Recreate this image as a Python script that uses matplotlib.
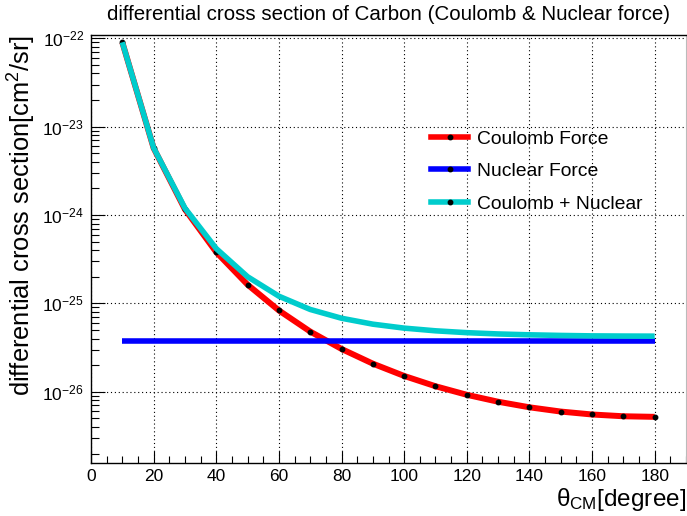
import matplotlib
matplotlib.use("Agg")
import matplotlib.pyplot as plt
from matplotlib.lines import Line2D
from matplotlib.ticker import LogLocator, MultipleLocator, NullFormatter, FixedLocator

plt.rcParams['font.family'] = ['Liberation Sans', 'DejaVu Sans']
plt.rcParams['mathtext.fontset'] = 'custom'
plt.rcParams['mathtext.rm'] = 'Liberation Sans'
plt.rcParams['mathtext.it'] = 'Liberation Sans:italic'
plt.rcParams['mathtext.bf'] = 'Liberation Sans:bold'

# ---- data ----
theta = [10, 20, 30, 40, 50, 60, 70, 80, 90, 100, 110, 120, 130, 140, 150, 160, 170, 180]
coulomb = [9.01e-23, 5.72e-24, 1.159e-24, 3.80e-25, 1.630e-25, 8.32e-26, 4.80e-26, 3.05e-26,
           2.08e-26, 1.51e-26, 1.155e-26, 9.24e-27, 7.71e-27, 6.67e-27, 5.97e-27, 5.53e-27,
           5.28e-27, 5.20e-27]
nuclear = [3.74e-26, 3.74e-26, 3.74e-26, 3.74e-26, 3.74e-26, 3.74e-26, 3.74e-26, 3.74e-26,
           3.74e-26, 3.74e-26, 3.74e-26, 3.74e-26, 3.74e-26, 3.74e-26, 3.74e-26, 3.74e-26,
           3.74e-26, 3.74e-26]
combined = [9.014e-23, 5.757e-24, 1.196e-24, 4.17e-25, 2.004e-25, 1.206e-25, 8.54e-26, 6.79e-26,
            5.82e-26, 5.25e-26, 4.895e-26, 4.664e-26, 4.51e-26, 4.41e-26, 4.34e-26, 4.29e-26,
            4.27e-26, 4.26e-26]
y_major = [1e-26, 1e-25, 1e-24, 1e-23, 1e-22]
labels = ["Coulomb Force", "Nuclear Force", "Coulomb + Nuclear"]
title = "differential cross section of Carbon (Coulomb & Nuclear force)"

RED = "#ff0000"
BLUE = "#0000ff"
CYAN = "#00cccc"

fig = plt.figure(figsize=(6.87, 5.16), dpi=100)
ax = fig.add_axes([91/687, 1-463.3/516, (686-91)/687, (463.3-35)/516])

lw = 4.0
ax.plot(theta, coulomb, color=RED, lw=lw + 0.3, zorder=3, solid_capstyle='butt')
ax.plot(theta, coulomb, ls='none', marker='o', ms=3.2, color='k', zorder=4)
ax.plot(theta, nuclear, color=BLUE, lw=lw, zorder=5, solid_capstyle='butt')
ax.plot(theta, combined, color=CYAN, lw=lw, zorder=6, solid_capstyle='butt')

ax.set_yscale('log')
ax.set_xlim(0, 190)
ax.set_ylim(1.55e-27, 1.09e-22)

ax.xaxis.set_major_locator(MultipleLocator(20))
ax.xaxis.set_minor_locator(MultipleLocator(5))
ax.yaxis.set_major_locator(FixedLocator(y_major))
ax.yaxis.set_minor_locator(LogLocator(base=10, subs=[2, 3, 4, 5, 6, 7, 8, 9], numticks=20))
ax.yaxis.set_minor_formatter(NullFormatter())

ax.tick_params(which='both', direction='in', top=False, right=False, labelsize=12.5, width=0.8)
ax.tick_params(axis='x', which='major', length=9, pad=4)
ax.tick_params(axis='x', which='minor', length=5)
ax.tick_params(axis='y', which='major', length=10, pad=5, labelsize=12.5)
ax.tick_params(axis='y', which='minor', length=6)

ax.grid(True, which='major', color='k', linestyle=(0, (1, 2.5)), linewidth=0.8)
ax.set_axisbelow(True)

for s in ['left', 'bottom', 'top']:
    ax.spines[s].set_linewidth(1.0)
ax.spines['right'].set_color('#bbbbbb')
ax.spines['right'].set_linewidth(0.8)

fig.text(389/687, 1-15/516, title, ha='center', va='center', fontsize=14.8)
ax.set_ylabel("differential cross section[cm$^2$/sr]", fontsize=18.4)
ax.yaxis.set_label_coords(-0.089, 1.0)
ax.yaxis.label.set_ha('right')
ax.set_xlabel("θ$_{\\mathrm{CM}}$[degree]", fontsize=17.5)
ax.xaxis.set_label_coords(1.0, -0.053)
ax.xaxis.label.set_ha('right')
ax.xaxis.label.set_va('top')

handles = [
    Line2D([], [], color=RED, lw=lw, marker='o', ms=3.2, mfc='k', mec='k'),
    Line2D([], [], color=BLUE, lw=lw, marker='o', ms=3.2, mfc='k', mec='k'),
    Line2D([], [], color=CYAN, lw=lw, marker='o', ms=3.2, mfc='k', mec='k'),
]
leg = ax.legend(handles, labels, loc='upper left', bbox_to_anchor=(431/687, 1-130/516),
                bbox_transform=fig.transFigure, frameon=False, fontsize=13.9,
                handlelength=1.92, handletextpad=0.47, labelspacing=0.78, borderaxespad=0,
                borderpad=0, numpoints=1)

fig.savefig("out.png", dpi=100)
